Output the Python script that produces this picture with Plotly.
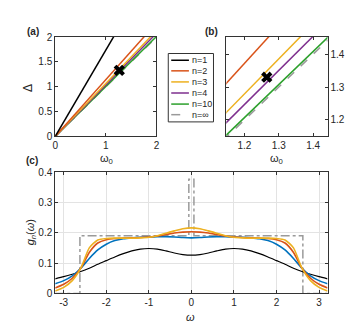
import plotly.graph_objects as go

W, H = 353, 328

# panels (a) and (b): Delta against omega_0, straight lines from the origin
omega0 = [0.0, 2.0]
delta_n1 = [0.0, 3.48]
delta_n2 = [0.0, 2.287]
delta_n3 = [0.0, 2.132]
delta_n4 = [0.0, 2.078]
delta_n10 = [0.0, 2.012]
delta_inf = [0.0, 2.0]
marker_omega0 = [1.265]
marker_delta = [1.33]

# panel (c): g_n(omega)
omega = [-3.2, -3.0, -2.8, -2.6, -2.4, -2.2, -2.0, -1.8, -1.6, -1.4, -1.2, -1.0,
         -0.8, -0.6, -0.4, -0.2, 0.0, 0.2, 0.4, 0.6, 0.8, 1.0, 1.2, 1.4, 1.6,
         1.8, 2.0, 2.2, 2.4, 2.6, 2.8, 3.0, 3.2]
g_black = [0.048, 0.055, 0.063, 0.072, 0.083, 0.096, 0.108, 0.120, 0.131, 0.140, 0.146, 0.148,
           0.146, 0.140, 0.133, 0.128, 0.126, 0.128, 0.133, 0.140, 0.146, 0.148, 0.146, 0.140, 0.131,
           0.120, 0.108, 0.096, 0.083, 0.072, 0.063, 0.055, 0.048]
g_blue = [0.032, 0.042, 0.058, 0.083, 0.115, 0.143, 0.162, 0.174, 0.180, 0.183, 0.185, 0.186,
          0.187, 0.187, 0.186, 0.184, 0.183, 0.184, 0.186, 0.187, 0.187, 0.186, 0.185, 0.183, 0.180,
          0.174, 0.162, 0.143, 0.115, 0.083, 0.058, 0.042, 0.032]
g_red = [0.018, 0.030, 0.050, 0.083, 0.135, 0.166, 0.177, 0.181, 0.182, 0.183, 0.184, 0.186,
         0.189, 0.194, 0.199, 0.202, 0.203, 0.202, 0.199, 0.194, 0.189, 0.186, 0.184, 0.183, 0.182,
         0.181, 0.177, 0.166, 0.135, 0.083, 0.050, 0.030, 0.018]
g_yellow = [0.008, 0.020, 0.042, 0.083, 0.150, 0.176, 0.181, 0.182, 0.182, 0.182, 0.183, 0.185,
            0.190, 0.198, 0.206, 0.213, 0.216, 0.213, 0.206, 0.198, 0.190, 0.185, 0.183, 0.182, 0.182,
            0.182, 0.181, 0.176, 0.150, 0.083, 0.042, 0.020, 0.008]
# limiting distribution: box plus a narrow spike at zero
box_omega = [-3.2, -2.62, -2.62, -0.06, -0.06, 0.06, 0.06, 2.62, 2.62, 3.2]
box_g = [0.0, 0.0, 0.19, 0.19, 0.376, 0.376, 0.19, 0.19, 0.0, 0.0]

c_ticks = [-3, -2, -1, 0, 1, 2, 3]
c_ticktext = ["-3", "-2", "-1", "0", "1", "2", "3"]

legend_labels = ["n=1", "n=2", "n=3", "n=4", "n=10", "n=\u221e"]

BLACK = "#000000"
RED = "#D95319"
YELLOW = "#EDB120"
PURPLE = "#7E2F8E"
GREEN = "#2CA02C"
BLUE = "#0072BD"
GRAY = "#9a9a9a"
line_colors = [BLACK, RED, YELLOW, PURPLE, GREEN, GRAY]


def px(x):
    return x / W


def py(y):
    return 1 - y / H


fig = go.Figure()

for xa, ya in [("x", "y"), ("x2", "y2")]:
    fig.add_trace(go.Scatter(x=omega0, y=delta_inf, mode="lines", xaxis=xa, yaxis=ya,
                             line=dict(color=GRAY, width=1.5, dash="dash")))
    for d, c in [(delta_n10, GREEN), (delta_n4, PURPLE), (delta_n3, YELLOW),
                 (delta_n2, RED), (delta_n1, BLACK)]:
        fig.add_trace(go.Scatter(x=omega0, y=d, mode="lines", xaxis=xa, yaxis=ya,
                                 line=dict(color=c, width=1.5)))
    fig.add_trace(go.Scatter(x=marker_omega0, y=marker_delta, mode="markers", xaxis=xa, yaxis=ya,
                             marker=dict(symbol="x", size=10, color="black")))

fig.add_trace(go.Scatter(x=box_omega, y=box_g, mode="lines", xaxis="x3", yaxis="y3",
                         line=dict(color=GRAY, width=1.5, dash="dashdot")))
for g, c, w in [(g_black, BLACK, 1.2), (g_blue, BLUE, 1.6), (g_red, RED, 1.6), (g_yellow, YELLOW, 1.6)]:
    fig.add_trace(go.Scatter(x=omega, y=g, mode="lines", xaxis="x3", yaxis="y3",
                             line=dict(color=c, width=w, shape="spline", smoothing=0.6)))

axis_style = dict(showline=True, linecolor="#333333", linewidth=1, mirror="ticks",
                  ticks="inside", ticklen=3, tickcolor="#333333", zeroline=False,
                  showgrid=False, tickfont=dict(size=10, color="#262626"))
grid_style = {**axis_style, "showgrid": True, "gridcolor": "#e3e3e3"}

fig.update_layout(
    width=W, height=H, margin=dict(l=0, r=0, t=0, b=0),
    paper_bgcolor="white", plot_bgcolor="white", showlegend=False,
    font=dict(family="Liberation Sans, Arial, sans-serif", size=10, color="#262626"),
    xaxis=dict(domain=[px(45), px(148)], range=[0, 2], tickvals=[0, 1, 2], anchor="y", **axis_style),
    yaxis=dict(domain=[py(127), py(24)], range=[0, 2], tickvals=[0, 0.5, 1, 1.5, 2], anchor="x", **axis_style),
    xaxis2=dict(domain=[px(219), px(322)], range=[1.147, 1.442], tickvals=[1.2, 1.3, 1.4],
                anchor="y2", **axis_style),
    yaxis2=dict(domain=[py(127), py(24)], range=[1.15, 1.452], tickvals=[1.2, 1.3, 1.4],
                anchor="x2", side="right", **axis_style),
    xaxis3=dict(domain=[px(45), px(322)], range=[-3.2, 3.2], tickvals=c_ticks, ticktext=c_ticktext,
                anchor="y3", **grid_style),
    yaxis3=dict(domain=[py(290), py(164)], range=[0, 0.4], tickvals=[0, 0.1, 0.2, 0.3, 0.4],
                anchor="x3", **grid_style),
)

# hand-made legend for panels (a) and (b)
shapes = [dict(type="rect", xref="paper", yref="paper", x0=px(160), x1=px(206), y0=py(112), y1=py(41),
               line=dict(color="#333333", width=1), fillcolor="white", layer="above")]
annotations = []
legend_y = [48, 59, 70.5, 82, 93.5, 104.5]
for lab, c, yy in zip(legend_labels, line_colors, legend_y):
    shapes.append(dict(type="line", xref="paper", yref="paper", x0=px(163), x1=px(181),
                       y0=py(yy), y1=py(yy), layer="above",
                       line=dict(color=c, width=1.5, dash="dash" if c == GRAY else "solid")))
    annotations.append(dict(text=lab, xref="paper", yref="paper", x=px(182), y=py(yy),
                            xanchor="left", yanchor="middle", showarrow=False,
                            font=dict(size=9, color="#262626")))

labels = [
    ("<b>(a)</b>", 22, 18, 0, 10),
    ("<b>(b)</b>", 204, 18, 0, 10),
    ("<b>(c)</b>", 21, 152, 0, 10),
    ("\u0394", 17, 77, -90, 12),
    ("\u03c9<sub>0</sub>", 97, 151, 0, 11),
    ("\u03c9<sub>0</sub>", 270, 151, 0, 11),
    ("<i>g<sub>n</sub></i>(<i>\u03c9</i>)", 20, 227, -90, 11),
    ("<i>\u03c9</i>", 183, 314, 0, 11),
]
for t, x, y, ang, s in labels:
    annotations.append(dict(text=t, xref="paper", yref="paper", x=px(x), y=py(y),
                            xanchor="center", yanchor="middle", showarrow=False, textangle=ang,
                            font=dict(size=s, color="#262626")))

fig.update_layout(shapes=shapes, annotations=annotations)

fig.write_html("out.html")
